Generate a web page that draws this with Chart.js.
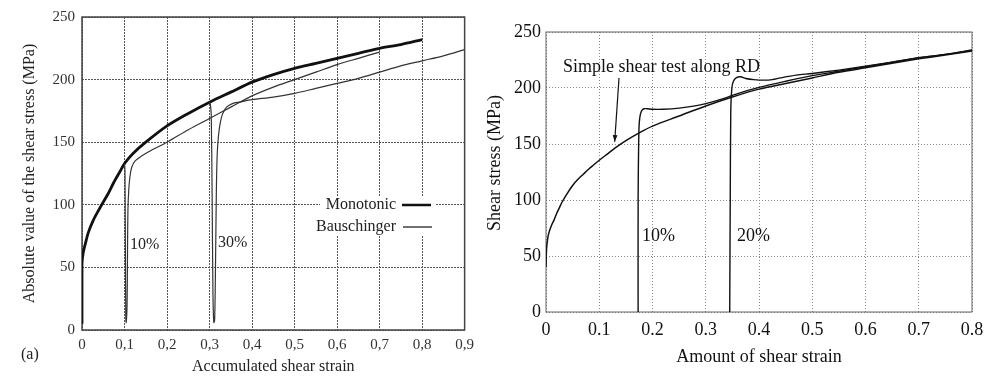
<!DOCTYPE html>
<html>
<head>
<meta charset="utf-8">
<title>Shear stress vs shear strain</title>
<script src="https://cdn.jsdelivr.net/npm/chart.js@4"></script>
<style>
  body { margin: 0; background: #fff; }
  #wrap { position: relative; width: 1000px; height: 376px; overflow: hidden; }
  canvas { position: absolute; top: 0; }
  #leftChart { left: 0; }
  #rightChart { left: 480px; }
</style>
</head>
<body>
<div id="wrap">
  <canvas id="leftChart" width="480" height="376"></canvas>
  <canvas id="rightChart" width="520" height="376"></canvas>
</div>
<script>
// ---- (a) monotonic vs Bauschinger tests ----
const monoStrain = [0, 0, 0.003, 0.008, 0.015, 0.027, 0.043, 0.06, 0.075, 0.09, 0.1, 0.12, 0.15, 0.2, 0.25, 0.3, 0.35, 0.4, 0.45, 0.5, 0.55, 0.6, 0.65, 0.7, 0.75, 0.8];
const monoStress = [5, 53, 62, 69, 78, 88, 98, 108, 118, 127, 133, 141, 150, 163, 173, 182, 190, 198, 204, 209, 213, 217, 221, 225, 228, 232];

const baus10Strain = [0.1, 0.101, 0.102, 0.103, 0.104, 0.106, 0.107, 0.108, 0.11, 0.113, 0.117, 0.125, 0.14, 0.16, 0.2, 0.25, 0.3, 0.35, 0.4, 0.45, 0.5, 0.55, 0.6, 0.65, 0.7];
const baus10Stress = [133, 128, 70, 10, 6, 20, 60, 95, 112, 123, 130, 135, 139, 143, 150, 160, 169, 178, 187, 194, 200, 206, 212, 217, 222];

const baus30Strain = [0.3, 0.302, 0.304, 0.306, 0.308, 0.31, 0.312, 0.314, 0.316, 0.318, 0.321, 0.325, 0.33, 0.34, 0.355, 0.37, 0.4, 0.45, 0.5, 0.55, 0.6, 0.65, 0.7, 0.75, 0.8, 0.85, 0.9];
const baus30Stress = [182, 180, 172, 110, 30, 6, 8, 50, 110, 140, 155, 165, 172, 178, 181, 182, 184, 186, 189, 193, 197, 201, 206, 211, 215, 219, 224];

const leftStrainTicks = ['0', '0,1', '0,2', '0,3', '0,4', '0,5', '0,6', '0,7', '0,8', '0,9'];

// ---- simple shear along RD, with reloads after 10% and 20% ----
const rdStrain = [0, 0.001, 0.003, 0.005, 0.01, 0.015, 0.02, 0.025, 0.03, 0.04, 0.05, 0.06, 0.07, 0.08, 0.09, 0.1, 0.115, 0.13, 0.15, 0.175, 0.2, 0.25, 0.3, 0.35, 0.4, 0.45, 0.5, 0.55, 0.6, 0.65, 0.7, 0.75, 0.8];
const rdStress = [40, 56, 65, 70, 77, 82, 88, 93, 98, 106, 113, 118.5, 123, 127.5, 131.5, 135.5, 141, 146.5, 153, 160, 166, 175, 184, 192, 199, 204, 209, 214, 218, 222, 226, 229.5, 233];

const pre10Strain = [0.173, 0.173, 0.174, 0.175, 0.177, 0.18, 0.184, 0.19, 0.2, 0.22, 0.25, 0.28, 0.3, 0.33, 0.36, 0.4, 0.45, 0.5, 0.55, 0.6, 0.65, 0.7, 0.75, 0.8];
const pre10Stress = [0, 100, 150, 168, 176, 180, 181.5, 181.5, 181, 181, 182, 184, 186, 190, 195, 200.5, 206, 211, 215, 219, 223, 227, 230, 233.5];

const pre20Strain = [0.345, 0.346, 0.347, 0.349, 0.352, 0.357, 0.365, 0.375, 0.39, 0.41, 0.425, 0.44, 0.47, 0.5, 0.55, 0.6, 0.65, 0.7, 0.75, 0.8];
const pre20Stress = [0, 100, 180, 200, 206, 209, 210, 208.5, 207.5, 207, 207.5, 209, 211.5, 213, 216, 219.5, 223, 227, 230, 234];

const rightStrainTicks = ['0', '0.1', '0.2', '0.3', '0.4', '0.5', '0.6', '0.7', '0.8'];
const stressTicks = ['0', '50', '100', '150', '200', '250'];

const SERIF = '"Liberation Serif", "Times New Roman", serif';

function points(xs, ys) {
  return xs.map((x, i) => ({ x: x, y: ys[i] }));
}

function curve(xs, ys, width, color) {
  return {
    data: points(xs, ys),
    showLine: true,
    borderColor: color,
    borderWidth: width,
    pointRadius: 0,
    tension: 0.3,
    fill: false
  };
}

// frame around the plot, legend box and text labels for (a)
const leftDecor = {
  id: 'leftDecor',
  beforeDatasetsDraw(chart) {
    const { ctx, chartArea: a } = chart;
    ctx.save();
    ctx.strokeStyle = '#444';
    ctx.lineWidth = 1.5;
    ctx.strokeRect(a.left, a.top, a.right - a.left, a.bottom - a.top);

    // legend sits on a white patch over the grid
    ctx.fillStyle = '#fff';
    ctx.fillRect(320, 196, 116, 40);
    ctx.fillStyle = '#222';
    ctx.font = '16px ' + SERIF;
    ctx.textAlign = 'right';
    ctx.textBaseline = 'middle';
    ctx.fillText('Monotonic', 396, 205);
    ctx.fillText('Bauschinger', 396, 227);
    ctx.strokeStyle = '#111';
    ctx.lineWidth = 2.5;
    ctx.beginPath(); ctx.moveTo(402, 205); ctx.lineTo(431, 205); ctx.stroke();
    ctx.lineWidth = 1.2;
    ctx.beginPath(); ctx.moveTo(403, 227); ctx.lineTo(432, 227); ctx.stroke();
    ctx.restore();
  },
  afterDraw(chart) {
    const { ctx } = chart;
    ctx.save();
    ctx.fillStyle = '#222';
    ctx.font = '16px ' + SERIF;
    ctx.textAlign = 'left';
    ctx.textBaseline = 'middle';
    ctx.fillText('10%', 130, 245);
    ctx.fillText('30%', 218, 243);
    ctx.fillText('(a)', 21, 355);
    ctx.restore();
  }
};

const rightDecor = {
  id: 'rightDecor',
  beforeDatasetsDraw(chart) {
    const { ctx, chartArea: a } = chart;
    ctx.save();
    ctx.strokeStyle = '#666';
    ctx.lineWidth = 1;
    ctx.strokeRect(a.left, a.top, a.right - a.left, a.bottom - a.top);
    ctx.restore();
  },
  afterDraw(chart) {
    const { ctx, scales } = chart;
    ctx.save();
    ctx.fillStyle = '#111';
    ctx.font = '18px ' + SERIF;
    ctx.textBaseline = 'middle';
    ctx.textAlign = 'left';
    ctx.fillText('Simple shear test along RD', 83, 67);
    ctx.fillText('10%', 162, 236);
    ctx.fillText('20%', 257, 236);

    // y axis title
    ctx.save();
    ctx.translate(15, 163);
    ctx.rotate(-Math.PI / 2);
    ctx.textAlign = 'center';
    ctx.fillText('Shear stress (MPa)', 0, 0);
    ctx.restore();

    // arrow from the label down to the RD curve
    const tipX = scales.x.getPixelForValue(0.129);
    const tipY = scales.y.getPixelForValue(152);
    const fromX = 139, fromY = 78;
    const ang = Math.atan2(tipY - fromY, tipX - fromX);
    ctx.strokeStyle = '#111';
    ctx.lineWidth = 1.2;
    ctx.beginPath();
    ctx.moveTo(fromX, fromY);
    ctx.lineTo(tipX, tipY);
    ctx.stroke();
    ctx.beginPath();
    ctx.moveTo(tipX, tipY);
    ctx.lineTo(tipX - 7 * Math.cos(ang - 0.35), tipY - 7 * Math.sin(ang - 0.35));
    ctx.lineTo(tipX - 7 * Math.cos(ang + 0.35), tipY - 7 * Math.sin(ang + 0.35));
    ctx.closePath();
    ctx.fillStyle = '#111';
    ctx.fill();
    ctx.restore();
  }
};

const common = {
  responsive: false,
  animation: false,
  devicePixelRatio: 1,
  plugins: { legend: { display: false }, tooltip: { enabled: false } }
};

new Chart(document.getElementById('leftChart'), {
  type: 'scatter',
  data: {
    datasets: [
      curve(baus10Strain, baus10Stress, 1.2, '#333'),
      curve(baus30Strain, baus30Stress, 1.2, '#333'),
      curve(monoStrain, monoStress, 2.8, '#111')
    ]
  },
  options: {
    ...common,
    layout: { padding: { left: 0, right: 12, top: 17, bottom: 0 } },
    scales: {
      x: {
        type: 'linear', min: 0, max: 0.9,
        afterFit: s => { s.height = 46; },
        border: { display: false, dash: [2, 1] },
        grid: { color: '#555', lineWidth: 1, drawTicks: false },
        ticks: {
          stepSize: 0.1, padding: 6, color: '#333',
          font: { family: SERIF, size: 15 },
          callback: v => leftStrainTicks[Math.round(v * 10)]
        },
        title: {
          display: true, text: 'Accumulated shear strain', color: '#222',
          font: { family: SERIF, size: 16 }, padding: { top: 0, bottom: 0 }
        }
      },
      y: {
        type: 'linear', min: 0, max: 250,
        afterFit: s => { s.width = 82; },
        border: { display: false, dash: [2, 1] },
        grid: { color: '#555', lineWidth: 1, drawTicks: false },
        ticks: {
          stepSize: 50, padding: 7, color: '#333',
          font: { family: SERIF, size: 15 },
          callback: v => stressTicks[Math.round(v / 50)]
        },
        title: {
          display: true, text: 'Absolute value of the shear stress (MPa)', color: '#222',
          font: { family: SERIF, size: 16 }, padding: { top: 20, bottom: 0 }
        }
      }
    }
  },
  plugins: [leftDecor]
});

new Chart(document.getElementById('rightChart'), {
  type: 'scatter',
  data: {
    datasets: [
      curve(pre10Strain, pre10Stress, 1.4, '#111'),
      curve(pre20Strain, pre20Stress, 1.4, '#111'),
      curve(rdStrain, rdStress, 1.5, '#111')
    ]
  },
  options: {
    ...common,
    layout: { padding: { left: 0, right: 28, top: 32, bottom: 0 } },
    scales: {
      x: {
        type: 'linear', min: 0, max: 0.8,
        afterFit: s => { s.height = 64; },
        border: { display: false, dash: [1, 2] },
        grid: { color: '#888', lineWidth: 1, drawTicks: false },
        ticks: {
          stepSize: 0.1, padding: 7, color: '#111',
          font: { family: SERIF, size: 18 },
          callback: v => rightStrainTicks[Math.round(v * 10)]
        },
        title: {
          display: true, text: 'Amount of shear strain', color: '#111',
          font: { family: SERIF, size: 18 }, padding: { top: 0, bottom: 8 }
        }
      },
      y: {
        type: 'linear', min: 0, max: 250,
        afterFit: s => { s.width = 66; },
        border: { display: false, dash: [1, 2] },
        grid: { color: '#888', lineWidth: 1, drawTicks: false },
        ticks: {
          stepSize: 50, padding: 5, color: '#111',
          font: { family: SERIF, size: 18 },
          callback: v => stressTicks[Math.round(v / 50)]
        }
      }
    }
  },
  plugins: [rightDecor]
});
</script>
</body>
</html>
